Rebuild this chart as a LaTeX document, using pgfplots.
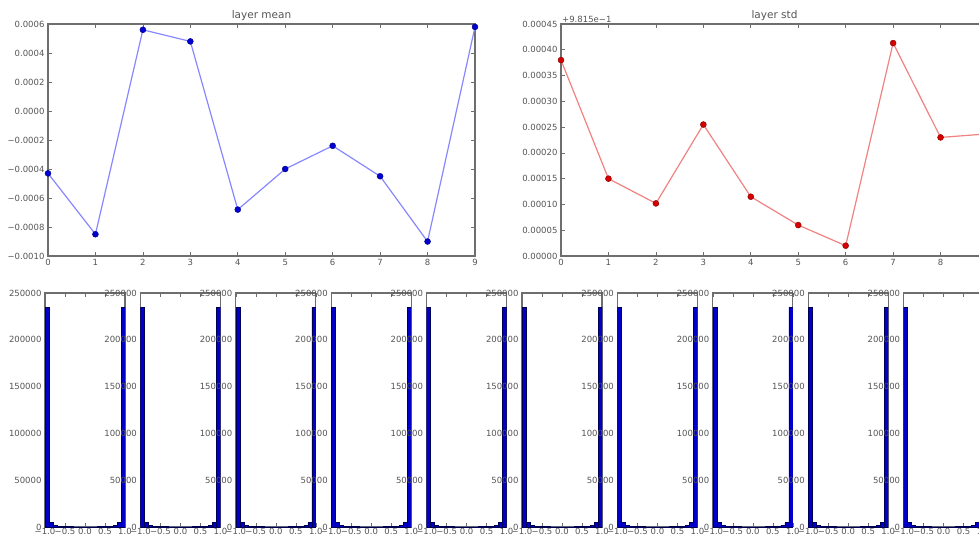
\documentclass[border=0pt]{standalone}
\usepackage{pgfplots}
\pgfplotsset{compat=1.18}
\usepackage{pgfplotstable}
\usepackage{fontspec}
\setmainfont{DejaVu Sans}
\definecolor{meanline}{RGB}{135,135,255}
\definecolor{meanmark}{RGB}{0,0,210}
\definecolor{stdline}{RGB}{240,130,130}
\definecolor{stdmark}{RGB}{215,0,0}
\definecolor{histfill}{RGB}{0,0,200}
\definecolor{histedge}{RGB}{0,0,80}
\definecolor{frame}{RGB}{110,110,110}
\definecolor{txt}{RGB}{85,85,85}

\pgfplotstableread{
x y
0 -0.00043
1 -0.00085
2 0.00056
3 0.00048
4 -0.00068
5 -0.00040
6 -0.00024
7 -0.00045
8 -0.00090
9 0.00058
}\meandata

\pgfplotstableread{
x y
0 0.000380
1 0.000150
2 0.000102
3 0.000255
4 0.000115
5 0.000060
6 0.000020
7 0.000413
8 0.000230
9 0.000237
}\stddata

\pgfplotstableread{
x y
-1.0 235000
-0.9 4500
-0.8 1900
-0.7 900
-0.6 500
-0.5 350
-0.4 250
-0.3 200
-0.2 180
-0.1 170
0.0 170
0.1 180
0.2 200
0.3 250
0.4 350
0.5 500
0.6 900
0.7 1900
0.8 4500
0.9 235000
1.0 235000
}\histdata

\pgfplotsset{
  mplstyle/.style={
    scale only axis,
    axis line style={frame, line width=1.1pt},
    tick align=inside,
    major tick length=4pt,
    tick style={frame, line width=0.6pt},
    ticklabel style={font=\fontsize{8.5}{10}\selectfont, text=txt},
    /pgf/number format/assume math mode=true,
    title style={font=\fontsize{10.5}{12}\selectfont, text=txt, yshift=-6pt},
    scaled ticks=false,
    xtick pos=both, ytick pos=both,
  },
}

\begin{document}
\begin{tikzpicture}
\path[use as bounding box] (0pt,0pt) rectangle (979pt,-541pt);
\clip (0pt,0pt) rectangle (979pt,-541pt);

\begin{axis}[mplstyle,
  at={(48pt,-256pt)}, anchor=south west,
  width=427pt, height=232pt,
  xmin=0, xmax=9, ymin=-0.0010, ymax=0.0006,
  xtick={0,1,...,9},
  ytick={-0.0010,-0.0008,-0.0006,-0.0004,-0.0002,0,0.0002,0.0004,0.0006},
  yticklabels={−0.0010,−0.0008,−0.0006,−0.0004,−0.0002,0.0000,0.0002,0.0004,0.0006},
  title={layer mean},
]
\addplot[meanline, line width=1.2pt, mark=*, mark size=3pt,
  mark options={fill=meanmark, draw=meanmark!60!black, line width=0.4pt}]
  table[x=x,y=y]{\meandata};
\end{axis}

\begin{axis}[mplstyle, name=stdax,
  at={(561pt,-256pt)}, anchor=south west,
  width=427pt, height=232pt,
  xmin=0, xmax=9, ymin=0, ymax=0.00045,
  xtick={0,1,...,9},
  ytick={0,0.00005,0.0001,0.00015,0.0002,0.00025,0.0003,0.00035,0.0004,0.00045},
  yticklabels={0.00000,0.00005,0.00010,0.00015,0.00020,0.00025,0.00030,0.00035,0.00040,0.00045},
  title={layer std},
]
\addplot[stdline, line width=1.2pt, mark=*, mark size=3pt,
  mark options={fill=stdmark, draw=stdmark!60!black, line width=0.4pt}]
  table[x=x,y=y]{\stddata};
\end{axis}
\node[anchor=south west, font=\fontsize{8.5}{10}\selectfont, text=txt, inner sep=1pt]
  at (stdax.north west) {+9.815e−1};

\foreach \px in {45,140.4,235.8,331.2,426.6,522,617.4,712.8,808.2,903.6} {
\begin{axis}[mplstyle,
  at={(\px pt,-527pt)}, anchor=south west,
  width=80pt, height=234pt,
  xmin=-1, xmax=1, ymin=0, ymax=250000,
  xtick={-1,-0.5,0,0.5,1},
  xticklabels={−1.0,−0.5,0.0,0.5,1.0},
  ytick={0,50000,100000,150000,200000,250000},
  yticklabels={0,50000,100000,150000,200000,250000},
  xticklabel style={inner sep=1pt},
]
\addplot[ybar interval, fill=histfill, draw=histedge, line width=0.6pt]
  table[x=x,y=y]{\histdata};
\end{axis}
}
\end{tikzpicture}
\end{document}
